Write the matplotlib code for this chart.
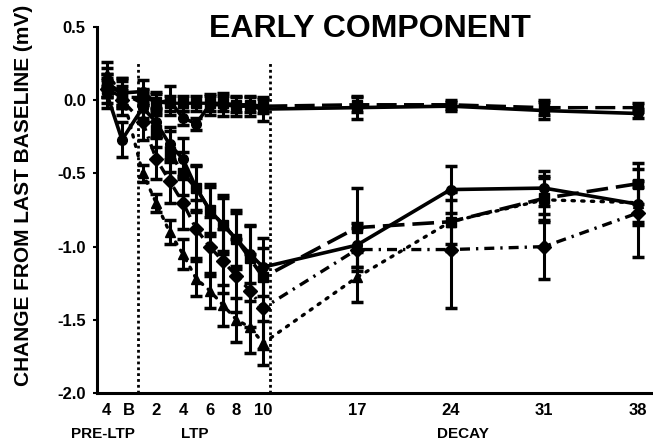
import matplotlib
matplotlib.use('Agg')
import matplotlib.pyplot as plt
import matplotlib.transforms as mtransforms

plt.rcParams['font.family'] = ['Liberation Sans', 'DejaVu Sans']

# time points (minutes); two pre-LTP baselines, LTP 1..10, decay
pre_t = [-1.7, -0.55]
ltp_t = [1, 2, 3, 4, 5, 6, 7, 8, 9, 10]
decay_t = [17, 24, 31, 38]
times = pre_t + ltp_t + decay_t

tick_pos = [-1.75, 0, 2, 4, 6, 8, 10, 17, 24, 31, 38]
tick_lab = ['4', 'B', '2', '4', '6', '8', '10', '17', '24', '31', '38']

# control groups (near zero)
ctrl_solid = [0.12, 0.05,
              0.06, -0.02, 0.0, -0.12, -0.16, -0.03, -0.03, -0.04, -0.04, -0.06,
              -0.05, -0.04, -0.07, -0.09]
ctrl_solid_err = [0.1, 0.08,
                  0.08, 0.08, 0.1, 0.05, 0.04, 0.07, 0.08, 0.07, 0.07, 0.08,
                  0.08, 0.03, 0.06, 0.03]
ctrl_dash = [0.08, 0.02,
             0.02, -0.01, -0.02, -0.02, -0.02, -0.02, -0.02, -0.03, -0.03, -0.04,
             -0.03, -0.03, -0.05, -0.05]
ctrl_dash_err = [0.06, 0.05,
                 0.05, 0.05, 0.05, 0.05, 0.05, 0.05, 0.05, 0.05, 0.05, 0.05,
                 0.05, 0.03, 0.05, 0.03]

# potentiated groups
grp_a = [0.05, -0.27,
         -0.05, -0.15, -0.3, -0.4, -0.6, -0.75, -0.85, -0.95, -1.05, -1.14,
         -0.99, -0.61, -0.6, -0.71]
grp_a_err = [0.1, 0.12,
             0.1, 0.1, 0.12, 0.14, 0.15, 0.16, 0.18, 0.18, 0.2, 0.2,
             0.15, 0.16, 0.12, 0.12]
grp_b = [0.1, 0.05,
         -0.02, -0.2, -0.35, -0.5, -0.6, -0.75, -0.85, -0.95, -1.08, -1.21,
         -0.87, -0.83, -0.67, -0.57]
grp_b_err = [0.08, 0.1,
             0.1, 0.12, 0.14, 0.15, 0.16, 0.18, 0.2, 0.2, 0.22, 0.2,
             0.27, 0.15, 0.15, 0.14]
grp_c = [0.08, 0.0,
         -0.15, -0.4, -0.55, -0.7, -0.88, -1.0, -1.1, -1.2, -1.3, -1.42,
         -1.02, -1.02, -1.0, -0.77]
grp_c_err = [0.1, 0.1,
             0.12, 0.14, 0.15, 0.18, 0.2, 0.2, 0.22, 0.25, 0.25, 0.28,
             0.15, 0.4, 0.22, 0.3]
grp_d = [0.18, 0.05,
         -0.5, -0.7, -0.9, -1.05, -1.22, -1.3, -1.4, -1.5, -1.55, -1.66,
         -1.21, -0.83, -0.68, -0.7]
grp_d_err = [0.08, 0.1,
             0.06, 0.06, 0.08, 0.1, 0.12, 0.12, 0.14, 0.15, 0.18, 0.15,
             0.17, 0.2, 0.15, 0.15]

fig = plt.figure(figsize=(6.53, 4.45), dpi=100)
ax = fig.add_axes([0.1485, 0.117, 0.8515, 0.822])

eb = dict(color='black', capsize=4.5, capthick=2.5, elinewidth=2.2, markersize=7)

ax.errorbar(times, ctrl_dash, yerr=ctrl_dash_err, marker='s', lw=2.4, dashes=(6, 2.2), **eb)
ax.errorbar(times, ctrl_solid, yerr=ctrl_solid_err, marker='o', lw=2.6, **eb)
ax.errorbar(times, grp_a, yerr=grp_a_err, marker='o', lw=2.6, **eb)
ax.errorbar(times, grp_b, yerr=grp_b_err, marker='s', lw=2.6, dashes=(6, 2.2), **eb)
ax.errorbar(times, grp_c, yerr=grp_c_err, marker='D', lw=2.4, dashes=(3, 1.8, 0.7, 1.8), **eb)
l = ax.errorbar(times, grp_d, yerr=grp_d_err, marker='^', lw=2.4, dashes=(0.7, 2.2), **eb)
l[0].set_dash_capstyle('round')

# phase boundaries
ax.vlines([0.65, 10.5], -2.0, 0.27, colors='black', linestyles=(0, (1, 1.1)), lw=2)

ax.set_xlim(-2.42, 39.13)
ax.set_ylim(-2.0, 0.5)
ax.spines['top'].set_visible(False)
ax.spines['right'].set_visible(False)
ax.spines['left'].set_linewidth(2.2)
ax.spines['bottom'].set_linewidth(2.2)

ax.set_yticks([0.5, 0.0, -0.5, -1.0, -1.5, -2.0])
ax.set_yticklabels(['0.5', '0.0', '-0.5', '-1.0', '-1.5', '-2.0'], fontsize=12, fontweight='bold')
ax.tick_params(axis='y', length=3, width=1.5, pad=5)
ax.set_xticks(tick_pos)
ax.set_xticklabels(tick_lab, fontsize=12, fontweight='bold')
ax.tick_params(axis='x', length=0, pad=7)

ax.set_ylabel('CHANGE FROM LAST BASELINE (mV)', fontsize=15, fontweight='bold')
ax.yaxis.set_label_coords(-0.115, 0.54)

fig.text(0.567, 0.935, 'EARLY COMPONENT', fontsize=23, fontweight='bold', ha='center', va='center')

trans = mtransforms.blended_transform_factory(ax.transData, fig.transFigure)
for xc, txt in [(-1.97, 'PRE-LTP'), (4.9, 'LTP'), (24.9, 'DECAY')]:
    fig.text(xc, 0.025, txt, transform=trans, fontsize=11, fontweight='bold', ha='center', va='center')

fig.savefig('out.png', dpi=100)
